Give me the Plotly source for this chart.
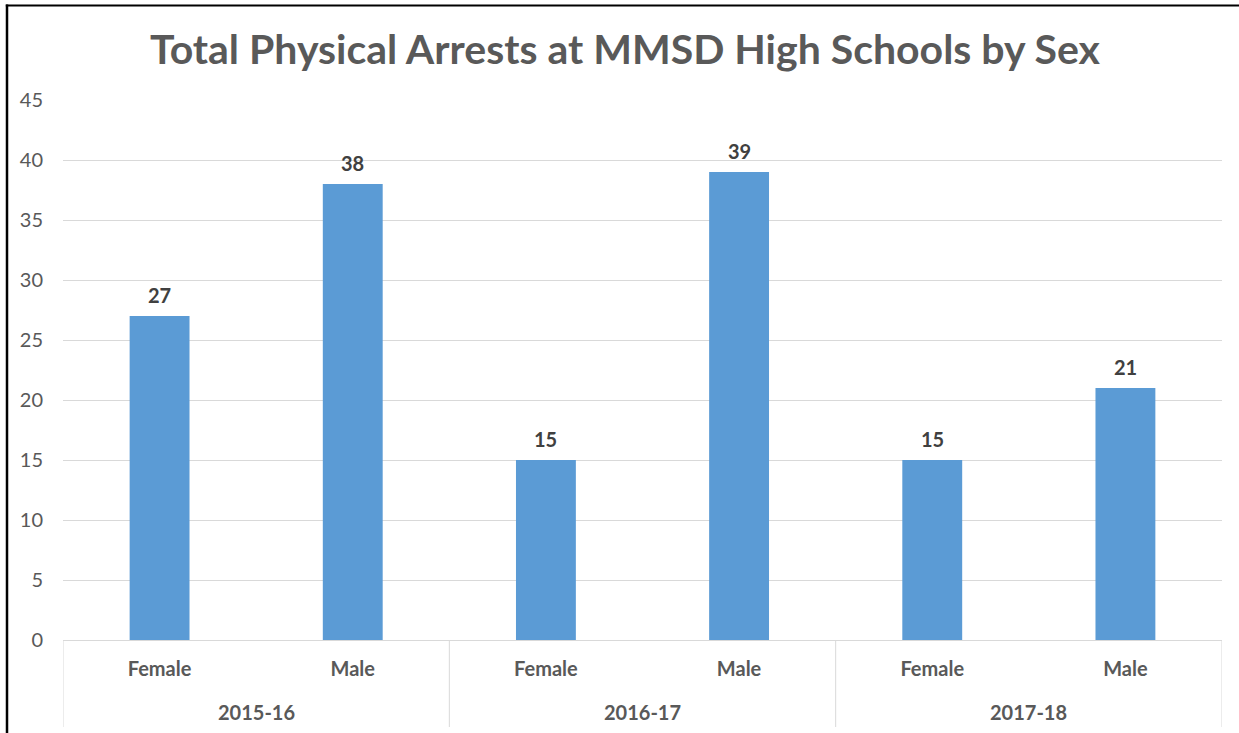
import plotly.graph_objects as go

years = ["2015-16", "2015-16", "2016-17", "2016-17", "2017-18", "2017-18"]
sexes = ["Female", "Male", "Female", "Male", "Female", "Male"]
arrests = [27, 38, 15, 39, 15, 21]
y_ticks = [0, 5, 10, 15, 20, 25, 30, 35, 40, 45]

title_text = "Total Physical Arrests at MMSD High Schools by Sex"

xs = list(range(len(arrests)))

W, H = 1239, 733
L, R, T, B = 63, 17, 100, 93
pw = W - L - R
ph = H - T - B

def py(pix):
    # pixel y (from top of page) -> paper coordinate
    return (H - B - pix) / ph

def px(pix):
    return (pix - L) / pw

fig = go.Figure()
fig.add_trace(go.Bar(
    x=xs,
    y=arrests,
    marker=dict(color="#5B9BD5", line=dict(width=0)),
    hovertext=[f"{a} {b}" for a, b in zip(years, sexes)],
    hoverinfo="text+y",
))

annotations = []
for i, v in zip(xs, arrests):
    annotations.append(dict(
        x=i, y=v, xref="x", yref="y", text=str(v), showarrow=False,
        yanchor="middle", yshift=21,
        font=dict(family="Lato", size=20, color="#404040", weight="bold"),
    ))

# group labels and dividers
groups = []
for i, yr in enumerate(years):
    if not groups or groups[-1][0] != yr:
        groups.append([yr, [i]])
    else:
        groups[-1][1].append(i)

shapes = []
for yr, idx in groups:
    annotations.append(dict(
        x=sum(idx) / len(idx), y=py(712), xref="x", yref="paper", text=yr,
        showarrow=False, yanchor="middle",
        font=dict(family="Lato", size=20, color="#595959", weight="bold"),
    ))
bounds = [groups[0][1][0] - 0.5] + [idx[-1] + 0.5 for _, idx in groups]
for bnd in bounds:
    shapes.append(dict(type="line", xref="x", yref="paper",
                       x0=bnd, x1=bnd, y0=0, y1=py(727),
                       line=dict(color="#d9d9d9", width=1)))

# outer chart border (left and top)
shapes.append(dict(type="line", xref="paper", yref="paper",
                   x0=px(7), x1=px(7), y0=py(4.5), y1=py(745),
                   line=dict(color="black", width=2.5)))
shapes.append(dict(type="line", xref="paper", yref="paper",
                   x0=px(5.8), x1=px(1260), y0=py(5.5), y1=py(5.5),
                   line=dict(color="black", width=2)))

fig.update_layout(
    width=W, height=H,
    margin=dict(l=L, r=R, t=T, b=B, autoexpand=False),
    paper_bgcolor="white",
    plot_bgcolor="white",
    bargap=0.69,
    showlegend=False,
    title=dict(
        text=title_text,
        x=px(625), xanchor="center", xref="paper",
        y=1 - 50 / H, yanchor="middle",
        font=dict(family="Lato", size=41, color="#595959", weight="bold"),
    ),
    font=dict(family="Lato", color="#595959"),
    xaxis=dict(
        range=[-0.5, len(xs) - 0.5],
        tickvals=xs,
        ticktext=sexes,
        showgrid=False,
        showline=True, linecolor="#d9d9d9", linewidth=1,
        zeroline=False,
        ticks="",
        ticklabelstandoff=11,
        tickfont=dict(family="Lato", size=20, color="#595959", weight="bold"),
    ),
    yaxis=dict(
        range=[0, 45],
        tickvals=y_ticks,
        showgrid=True, gridcolor="#d9d9d9", gridwidth=1,
        zeroline=False,
        showline=False,
        ticks="",
        tickfont=dict(family="Lato", size=20, color="#595959"),
        ticklabelstandoff=19,
    ),
    annotations=annotations,
    shapes=shapes,
)

fig.write_html("out.html", config={"displayModeBar": False},
               post_script="document.body.style.margin='0px';")
